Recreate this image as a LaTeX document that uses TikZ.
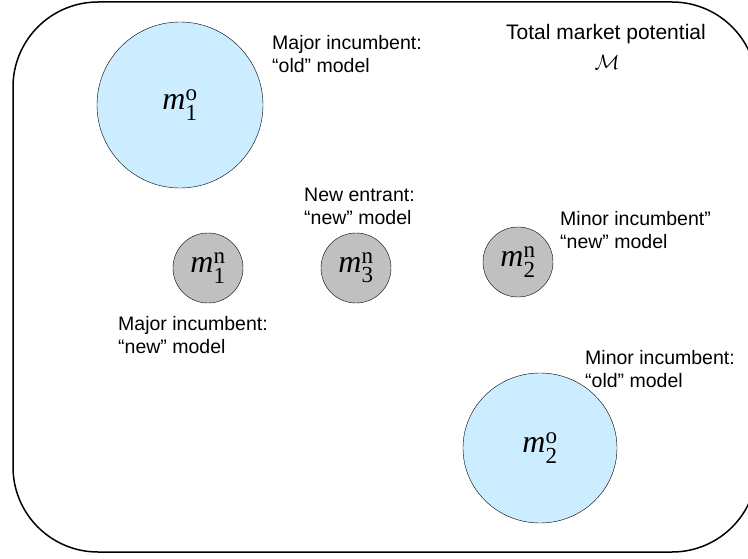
\documentclass[tikz,border=0pt]{standalone}
\usepackage{fontspec}
\usepackage{amsmath}
\setmainfont{Liberation Sans}
\newfontfamily\tnr{Liberation Serif}
\usetikzlibrary{shapes.geometric}
\definecolor{oldblue}{RGB}{204,236,255}
\definecolor{newgray}{RGB}{192,192,192}
\newcommand{\scfont}{\tnr\upshape\fontsize{23}{23}\selectfont}
\newcommand{\mvar}[2]{$\text{\tnr\itshape m}^{\text{\scfont #2}}_{\text{\scfont #1}}$}

\begin{document}
\begin{tikzpicture}[x=1pt,y=-1pt,
	market/.style={draw=black,line width=1.5pt,rounded corners=85pt},
	oldmodel/.style={ellipse,draw,thin,fill=oldblue,inner sep=0pt,font=\fontsize{32}{34}\selectfont},
	newmodel/.style={circle,draw,thin,fill=newgray,inner sep=0pt,minimum size=70pt,font=\fontsize{32}{34}\selectfont},
	caption/.style={anchor=base west,align=left,inner sep=0pt,font=\fontsize{19.5}{23}\selectfont}]
		\useasboundingbox (0,0) rectangle (748,559);
		\draw[market] (13,2) rectangle (757,552);
		% old and new models
		\node[oldmodel,minimum width=166pt,minimum height=166pt] (m1o) at (180,105) {\mvar{1}{o}};
		\node[newmodel] (m1n) at (208,268) {\mvar{1}{n}};
		\node[newmodel] (m3n) at (356,268) {\mvar{3}{n}};
		\node[newmodel] (m2n) at (518,262) {\mvar{2}{n}};
		\node[oldmodel,minimum width=154pt,minimum height=150pt] (m2o) at (540,448) {\mvar{2}{o}};
		% labels (base = last line)
		\node[caption,anchor=base,font=\fontsize{21}{23}\selectfont] (total) at (606,40) {Total market potential};
		\node[anchor=base,inner sep=0pt,font=\fontsize{22}{24}\selectfont] (calm) at (607,70) {$\mathcal{M}$};
		\node[caption] (majold) at (272,73) {Major incumbent:\\“old” model};
		\node[caption] (entnew) at (304,225) {New entrant:\\“new” model};
		\node[caption] (minnew) at (560,248) {Minor incumbent”\\“new” model};
		\node[caption] (majnew) at (118,353) {Major incumbent:\\“new” model};
		\node[caption] (minold) at (585,387) {Minor incumbent:\\“old” model};
	\end{tikzpicture}
\end{document}
